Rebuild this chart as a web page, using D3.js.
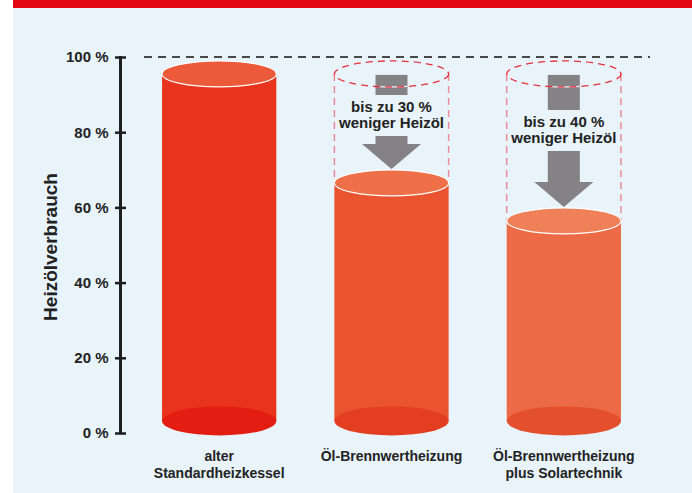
<!DOCTYPE html>
<html>
<head>
<meta charset="utf-8">
<script src="https://cdn.jsdelivr.net/npm/d3@7"></script>
<style>
  body { margin: 0; background: #fff; }
  text { font-family: "Liberation Sans", Arial, sans-serif; font-weight: bold; fill: #222; }
</style>
</head>
<body>
<script>
// Data
var categories = [['alter', 'Standardheizkessel'], ['Öl-Brennwertheizung'], ['Öl-Brennwertheizung', 'plus Solartechnik']];
var values = [95.5, 66.5, 56.4];
var savings = [null, ['bis zu 30 %', 'weniger Heizöl'], ['bis zu 40 %', 'weniger Heizöl']];
var ticks = [0, 20, 40, 60, 80, 100];
var baseValue = 3.2;

var bodyColors = ['#e8341c', '#e9532f', '#ec6a45'];
var topColors = ['#ec5a3a', '#ee6f48', '#ef8058'];
var bottomColors = ['#e31d12', '#e33e22', '#e44f2e'];

var width = 692, height = 493;

var svg = d3.select('body')
  .append('svg')
  .attr('width', width)
  .attr('height', height);

// background
svg.append('rect').attr('x', 13).attr('y', 0).attr('width', width - 13).attr('height', height).attr('fill', '#e8f3fa');
svg.append('rect').attr('x', 13).attr('y', 0).attr('width', width - 13).attr('height', 8).attr('fill', '#e30613');

var y = d3.scaleLinear().domain([0, 100]).range([433, 57]);
var x = d3.scaleBand().domain(d3.range(categories.length)).range([133, 650]).paddingInner(0.337).paddingOuter(0.1686);

var rx = x.bandwidth() / 2;
var ryTop = 13, ryBottom = 14.5;

// y axis
var axis = svg.append('g').attr('transform', 'translate(120.5,0)')
  .call(d3.axisLeft(y).tickValues(ticks).tickFormat(d => d + ' %').tickSize(5).tickPadding(7));
axis.select('.domain').remove();
axis.append('line').attr('y1', y(100) - 1).attr('y2', y(0) + 1).attr('stroke', '#1e1e1e').attr('stroke-width', 3);
axis.selectAll('.tick line').attr('x1', -5.5).attr('x2', 5.5).attr('stroke', '#1e1e1e').attr('stroke-width', 2.5);
axis.selectAll('.tick text').style('font-size', '15px').style('fill', '#222').attr('font-family', null);

svg.append('text')
  .attr('transform', 'translate(57,' + (y(50) + 2) + ') rotate(-90)')
  .attr('text-anchor', 'middle')
  .style('font-size', '19px')
  .text('Heizölverbrauch');

// 100 % dashed line
svg.append('line')
  .attr('x1', 144).attr('x2', 650)
  .attr('y1', y(100)).attr('y2', y(100))
  .attr('stroke', '#111').attr('stroke-width', 1.5).attr('stroke-dasharray', '8,6');

var bars = svg.append('g').selectAll('g').data(values).join('g');

// ghost cylinders (where savings)
bars.each(function (v, i) {
  if (!savings[i]) return;
  var g = d3.select(this);
  [x(i), x(i) + x.bandwidth()].forEach(function (sx) {
    g.append('line').attr('x1', sx).attr('x2', sx)
      .attr('y1', y(values[0])).attr('y2', y(v))
      .attr('stroke', '#ec8b94').attr('stroke-width', 1.5).attr('stroke-dasharray', '7,5');
  });
});

// cylinder bodies
bars.append('rect')
  .attr('x', (d, i) => x(i))
  .attr('width', x.bandwidth())
  .attr('y', d => y(d))
  .attr('height', d => y(baseValue) - y(d))
  .attr('fill', (d, i) => bodyColors[i]);

bars.append('ellipse')
  .attr('cx', (d, i) => x(i) + rx)
  .attr('cy', y(baseValue))
  .attr('rx', rx).attr('ry', ryBottom)
  .attr('fill', (d, i) => bottomColors[i]);

bars.append('ellipse')
  .attr('cx', (d, i) => x(i) + rx)
  .attr('cy', d => y(d))
  .attr('rx', rx).attr('ry', ryTop)
  .attr('fill', (d, i) => topColors[i])
  .attr('stroke', '#fff').attr('stroke-width', 1.2);

// arrows and savings text
var gray = '#858285';
bars.each(function (v, i) {
  if (!savings[i]) return;
  var g = d3.select(this);
  var cx = x(i) + rx;
  var top = y(values[0]);
  var lines = savings[i];
  var textTop = i === 1 ? 112 : 127;
  var stemEnd = textTop - 17;
  g.append('rect').attr('x', cx - 16).attr('y', top + 1).attr('width', 32).attr('height', stemEnd - top - 1).attr('fill', gray);
  // white front edge of ghost ellipse over the stem
  g.append('path')
    .attr('d', d3.line().curve(d3.curveBasis)(d3.range(-16, 17, 4).map(dx => [cx + dx, top + ryTop * Math.sqrt(1 - (dx / rx) * (dx / rx))])))
    .attr('fill', 'none').attr('stroke', '#f4f4f4').attr('stroke-width', 1.3);
  g.append('ellipse').attr('cx', cx).attr('cy', top).attr('rx', rx).attr('ry', ryTop)
    .attr('fill', 'none').attr('stroke', '#e8303c').attr('stroke-width', 1.3).attr('stroke-dasharray', '7,5');
  g.selectAll('text.sv').data(lines).join('text')
    .attr('class', 'sv')
    .attr('x', cx).attr('y', (d, j) => textTop + j * 16)
    .attr('text-anchor', 'middle')
    .style('font-size', '15px')
    .text(d => d);
  var headTip = y(v) - ryTop - 1;
  var headTop = headTip - 25;
  var stem2 = textTop + 24;
  g.append('path')
    .attr('d', 'M' + (cx - 16) + ',' + stem2 + 'H' + (cx + 16) + 'V' + headTop + 'H' + (cx + 29.5) +
      'L' + cx + ',' + headTip + 'L' + (cx - 29.5) + ',' + headTop + 'H' + (cx - 16) + 'Z')
    .attr('fill', gray);
});

// category labels
bars.each(function (v, i) {
  d3.select(this).selectAll('text.cat').data(categories[i]).join('text')
    .attr('class', 'cat')
    .attr('x', x(i) + rx)
    .attr('y', (d, j) => 461 + j * 16.5)
    .attr('text-anchor', 'middle')
    .style('font-size', '14px')
    .text(d => d);
});
</script>
</body>
</html>
